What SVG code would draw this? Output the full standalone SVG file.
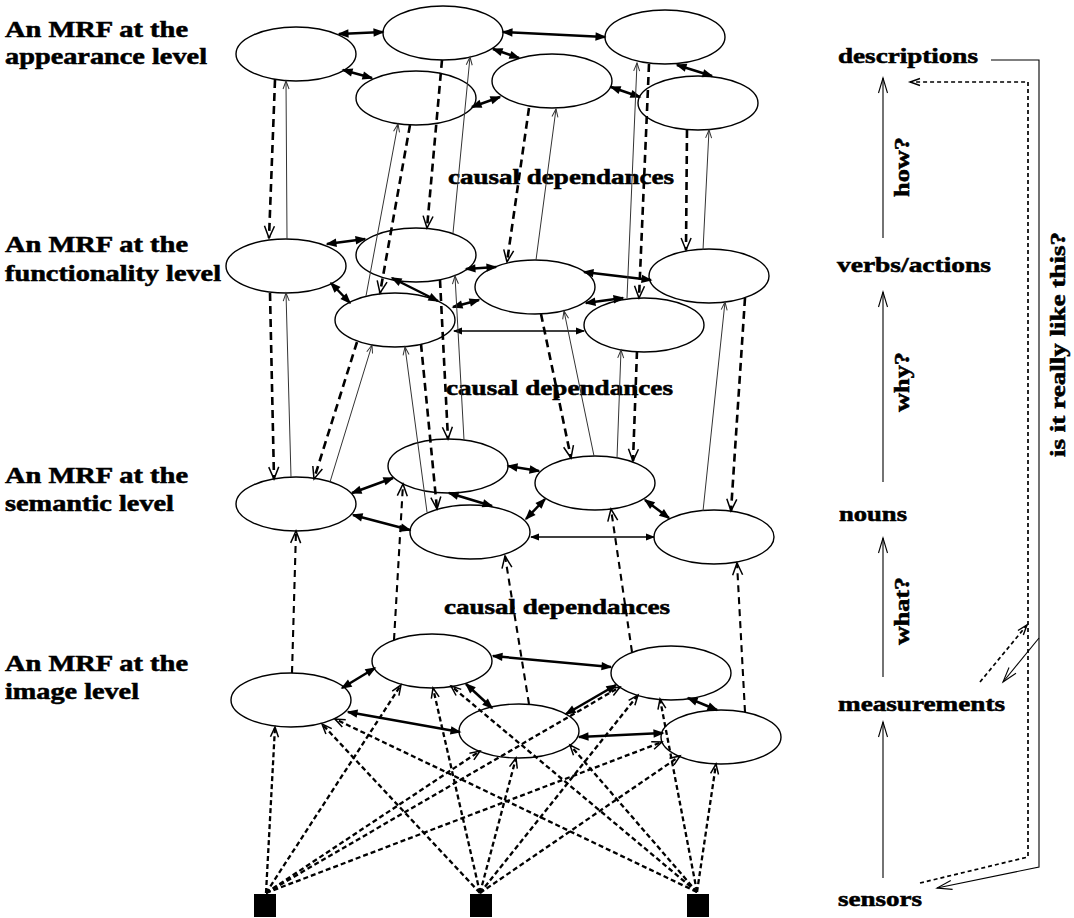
<svg xmlns="http://www.w3.org/2000/svg" width="1074" height="918" viewBox="0 0 1074 918">
<defs>
<style>
.lbl{font-family:"Liberation Serif","Times New Roman",serif;font-weight:bold;font-size:22px;fill:#000;stroke:#000;stroke-width:0.55}
.big{font-size:23px}
.node{fill:none;stroke:#000;stroke-width:1.4}
.sq{fill:#000}
.thick{stroke:#000;stroke-width:2.5;fill:none;marker-start:url(#fh);marker-end:url(#fh)}
.thin2{stroke:#000;stroke-width:1.4;fill:none;marker-start:url(#fhs);marker-end:url(#fhs)}
.down{stroke:#000;stroke-width:2.6;stroke-dasharray:8 5;fill:none;marker-end:url(#ov)}
.up{stroke:#333;stroke-width:1;fill:none;marker-end:url(#ovt)}
.up2{stroke:#000;stroke-width:2.1;stroke-dasharray:7 5;fill:none;marker-end:url(#ov)}
.sens{stroke:#000;stroke-width:2.3;stroke-dasharray:5 3;fill:none;marker-end:url(#ovs)}
.rs{stroke:#000;stroke-width:1.1;fill:none}
.rd{stroke:#000;stroke-width:1.7;stroke-dasharray:4 3;fill:none}
</style>
<marker id="fh" markerUnits="userSpaceOnUse" markerWidth="12" markerHeight="10" refX="-1.5" refY="0" orient="auto-start-reverse" overflow="visible"><path d="M-11,-4.2 L0,0 L-11,4.2 Z" fill="#000"/></marker>
<marker id="fhs" markerUnits="userSpaceOnUse" markerWidth="10" markerHeight="8" refX="-1" refY="0" orient="auto-start-reverse" overflow="visible"><path d="M-9,-3.5 L0,0 L-9,3.5 Z" fill="#000"/></marker>
<marker id="ov" markerUnits="userSpaceOnUse" markerWidth="12" markerHeight="10" refX="0" refY="0" orient="auto" overflow="visible"><path d="M-12,-5 L0,0 L-12,5" fill="none" stroke="#000" stroke-width="1.5"/></marker>
<marker id="ovt" markerUnits="userSpaceOnUse" markerWidth="8" markerHeight="6" refX="0" refY="0" orient="auto" overflow="visible"><path d="M-8,-3 L0,0 L-8,3" fill="none" stroke="#333" stroke-width="1"/></marker>
<marker id="ovs" markerUnits="userSpaceOnUse" markerWidth="10" markerHeight="8" refX="0" refY="0" orient="auto" overflow="visible"><path d="M-10,-4 L0,0 L-10,4" fill="none" stroke="#000" stroke-width="1.5"/></marker>
<marker id="ovl" markerUnits="userSpaceOnUse" markerWidth="15" markerHeight="9" refX="0" refY="0" orient="auto" overflow="visible"><path d="M-15,-4.5 L0,0 L-15,4.5" fill="none" stroke="#000" stroke-width="1.1"/></marker>
<marker id="ovd" markerUnits="userSpaceOnUse" markerWidth="10" markerHeight="8" refX="0" refY="0" orient="auto" overflow="visible"><path d="M-10,-3.5 L0,0 L-10,3.5" fill="none" stroke="#000" stroke-width="1.4"/></marker>
</defs>
<rect width="1074" height="918" fill="#fff"/>

<g id="labels">
<text class="lbl big" x="5" y="37" textLength="183" lengthAdjust="spacingAndGlyphs">An MRF at the</text>
<text class="lbl big" x="5" y="64" textLength="202" lengthAdjust="spacingAndGlyphs">appearance level</text>
<text class="lbl big" x="5" y="252" textLength="183" lengthAdjust="spacingAndGlyphs">An MRF at the</text>
<text class="lbl big" x="5" y="281" textLength="216" lengthAdjust="spacingAndGlyphs">functionality level</text>
<text class="lbl big" x="5" y="483" textLength="183" lengthAdjust="spacingAndGlyphs">An MRF at the</text>
<text class="lbl big" x="5" y="511" textLength="169" lengthAdjust="spacingAndGlyphs">semantic level</text>
<text class="lbl big" x="5" y="671" textLength="183" lengthAdjust="spacingAndGlyphs">An MRF at the</text>
<text class="lbl big" x="5" y="699" textLength="134" lengthAdjust="spacingAndGlyphs">image level</text>
<text class="lbl" x="448" y="184" textLength="226" lengthAdjust="spacingAndGlyphs">causal dependances</text>
<text class="lbl" x="446" y="395" textLength="227" lengthAdjust="spacingAndGlyphs">causal dependances</text>
<text class="lbl" x="444" y="614" textLength="226" lengthAdjust="spacingAndGlyphs">causal dependances</text>
<text class="lbl" x="838" y="63" textLength="140" lengthAdjust="spacingAndGlyphs">descriptions</text>
<text class="lbl" x="837" y="272" textLength="154" lengthAdjust="spacingAndGlyphs">verbs/actions</text>
<text class="lbl" x="839" y="521" textLength="68" lengthAdjust="spacingAndGlyphs">nouns</text>
<text class="lbl" x="838" y="711" textLength="167" lengthAdjust="spacingAndGlyphs">measurements</text>
<text class="lbl" x="838" y="906" textLength="84" lengthAdjust="spacingAndGlyphs">sensors</text>
<text class="lbl" transform="translate(909,197) rotate(-90)" textLength="60" lengthAdjust="spacingAndGlyphs">how?</text>
<text class="lbl" transform="translate(909,412) rotate(-90)" textLength="60" lengthAdjust="spacingAndGlyphs">why?</text>
<text class="lbl" transform="translate(909,645) rotate(-90)" textLength="68" lengthAdjust="spacingAndGlyphs">what?</text>
<text class="lbl" transform="translate(1065,457) rotate(-90)" textLength="225" lengthAdjust="spacingAndGlyphs">is it really like this?</text>
</g>

<g id="A1"><ellipse class="node" cx="296" cy="54" rx="60" ry="27"/></g>
<g id="A2"><ellipse class="node" cx="443" cy="33" rx="60" ry="27"/></g>
<g id="A3"><ellipse class="node" cx="665" cy="37" rx="60" ry="27"/></g>
<g id="A4"><ellipse class="node" cx="416" cy="98" rx="60" ry="27"/></g>
<g id="A5"><ellipse class="node" cx="552" cy="81" rx="60" ry="27"/></g>
<g id="A6"><ellipse class="node" cx="698" cy="103" rx="60" ry="27"/></g>

<g id="F1"><ellipse class="node" cx="286" cy="266" rx="60" ry="27"/></g>
<g id="F2"><ellipse class="node" cx="416" cy="255" rx="60" ry="27"/></g>
<g id="F3"><ellipse class="node" cx="535" cy="287" rx="60" ry="27"/></g>
<g id="F4"><ellipse class="node" cx="709" cy="276" rx="60" ry="27"/></g>
<g id="F5"><ellipse class="node" cx="395" cy="320" rx="60" ry="27"/></g>
<g id="F6"><ellipse class="node" cx="644" cy="325" rx="60" ry="27"/></g>

<g id="S1"><ellipse class="node" cx="296" cy="504" rx="60" ry="27"/></g>
<g id="S2"><ellipse class="node" cx="448" cy="466" rx="60" ry="27"/></g>
<g id="S3"><ellipse class="node" cx="595" cy="483" rx="60" ry="27"/></g>
<g id="S4"><ellipse class="node" cx="470" cy="532" rx="60" ry="27"/></g>
<g id="S5"><ellipse class="node" cx="714" cy="537" rx="60" ry="27"/></g>

<g id="I1"><ellipse class="node" cx="291" cy="700" rx="60" ry="27"/></g>
<g id="I2"><ellipse class="node" cx="432" cy="661" rx="60" ry="27"/></g>
<g id="I3"><ellipse class="node" cx="671" cy="673" rx="60" ry="27"/></g>
<g id="I4"><ellipse class="node" cx="519" cy="731" rx="60" ry="27"/></g>
<g id="I5"><ellipse class="node" cx="721" cy="737" rx="60" ry="27"/></g>

<g id="sensorL"><rect class="sq" x="254" y="894" width="22" height="23"/></g>
<g id="sensorM"><rect class="sq" x="470" y="894" width="22" height="23"/></g>
<g id="sensorR"><rect class="sq" x="687" y="894" width="22" height="23"/></g>

<g id="connectors">
<g id="intra">
<line class="thick" x1="339" y1="34" x2="383" y2="32"/>
<line class="thick" x1="503" y1="32" x2="605" y2="37"/>
<line class="thick" x1="343" y1="70" x2="372" y2="78"/>
<line class="thick" x1="493" y1="49" x2="519" y2="58"/>
<line class="thick" x1="472" y1="107" x2="500" y2="97"/>
<line class="thick" x1="677" y1="65" x2="712" y2="76"/>
<line class="thick" x1="611" y1="87" x2="640" y2="97"/>

<line class="thick" x1="327" y1="244" x2="365" y2="239"/>
<line class="thick" x1="331" y1="283" x2="350" y2="303"/>
<line class="thick" x1="466" y1="269" x2="496" y2="267"/>
<line class="thick" x1="392" y1="278" x2="438" y2="301"/>
<line class="thick" x1="584" y1="272" x2="651" y2="280"/>
<line class="thick" x1="586" y1="303" x2="623" y2="298"/>
<line class="thick" x1="453" y1="307" x2="479" y2="300"/>
<line class="thin2" x1="454" y1="331" x2="584" y2="331"/>

<line class="thick" x1="352" y1="493" x2="393" y2="478"/>
<line class="thick" x1="353" y1="515" x2="410" y2="530"/>
<line class="thick" x1="449" y1="493" x2="492" y2="506"/>
<line class="thick" x1="508" y1="466" x2="539" y2="471"/>
<line class="thick" x1="545" y1="499" x2="526" y2="519"/>
<line class="thick" x1="645" y1="500" x2="669" y2="518"/>
<line class="thin2" x1="531" y1="537" x2="654" y2="537"/>

<line class="thick" x1="342" y1="688" x2="375" y2="668"/>
<line class="thick" x1="348" y1="712" x2="460" y2="732"/>
<line class="thick" x1="493" y1="656" x2="611" y2="667"/>
<line class="thick" x1="466" y1="684" x2="492" y2="708"/>
<line class="thick" x1="616" y1="685" x2="566" y2="714"/>
<line class="thick" x1="688" y1="698" x2="717" y2="710"/>
<line class="thick" x1="579" y1="737" x2="663" y2="733"/>
</g>

<g id="topdown">
<line class="down" x1="275" y1="80" x2="269" y2="238"/>
<line class="down" x1="410" y1="125" x2="380" y2="293"/>
<line class="down" x1="442" y1="60" x2="427" y2="228"/>
<line class="down" x1="529" y1="108" x2="507" y2="262"/>
<line class="down" x1="649" y1="64" x2="639" y2="298"/>
<line class="down" x1="687" y1="130" x2="686" y2="250"/>
<line class="down" x1="270" y1="293" x2="274" y2="479"/>
<line class="down" x1="357" y1="342" x2="314" y2="479"/>
<line class="down" x1="421" y1="344" x2="437" y2="509"/>
<line class="down" x1="440" y1="280" x2="448" y2="439"/>
<line class="down" x1="541" y1="314" x2="571" y2="458"/>
<line class="down" x1="637" y1="351" x2="633" y2="461"/>
<line class="down" x1="745" y1="298" x2="731" y2="511"/>
</g>

<g id="bottomup">
<line class="up" x1="287" y1="239" x2="286" y2="81"/>
<line class="up" x1="366" y1="296" x2="398" y2="124"/>
<line class="up" x1="453" y1="233" x2="470" y2="57"/>
<line class="up" x1="536" y1="260" x2="556" y2="109"/>
<line class="up" x1="627" y1="298" x2="637" y2="63"/>
<line class="up" x1="703" y1="250" x2="709" y2="130"/>
<line class="up" x1="291" y1="477" x2="286" y2="293"/>
<line class="up" x1="330" y1="482" x2="372" y2="345"/>
<line class="up" x1="427" y1="512" x2="405" y2="347"/>
<line class="up" x1="464" y1="440" x2="455" y2="276"/>
<line class="up" x1="594" y1="456" x2="564" y2="311"/>
<line class="up" x1="617" y1="458" x2="621" y2="350"/>
<line class="up" x1="703" y1="511" x2="725" y2="302"/>
<line class="up2" x1="292" y1="673" x2="296" y2="531"/>
<line class="up2" x1="394" y1="640" x2="403" y2="484"/>
<line class="up2" x1="529" y1="704" x2="505" y2="556"/>
<line class="up2" x1="632" y1="652" x2="611" y2="509"/>
<line class="up2" x1="745" y1="712" x2="737" y2="563"/>
</g>

<g id="sensorlinks">
<line class="sens" x1="266" y1="893" x2="275" y2="727"/>
<line class="sens" x1="266" y1="893" x2="401" y2="685"/>
<line class="sens" x1="266" y1="893" x2="480" y2="751"/>
<line class="sens" x1="266" y1="893" x2="620" y2="687"/>
<line class="sens" x1="266" y1="893" x2="662" y2="742"/>
<line class="sens" x1="480" y1="893" x2="322" y2="724"/>
<line class="sens" x1="480" y1="893" x2="433" y2="688"/>
<line class="sens" x1="480" y1="893" x2="516" y2="758"/>
<line class="sens" x1="480" y1="893" x2="638" y2="695"/>
<line class="sens" x1="480" y1="893" x2="680" y2="756"/>
<line class="sens" x1="697" y1="892" x2="335" y2="719"/>
<line class="sens" x1="697" y1="892" x2="451" y2="686"/>
<line class="sens" x1="697" y1="892" x2="570" y2="745"/>
<line class="sens" x1="697" y1="892" x2="660" y2="699"/>
<line class="sens" x1="697" y1="892" x2="716" y2="764"/>
</g>

<g id="rightside">
<line class="rs" x1="883" y1="238" x2="883" y2="78" marker-end="url(#ovl)"/>
<line class="rs" x1="883" y1="482" x2="883" y2="292" marker-end="url(#ovl)"/>
<line class="rs" x1="883" y1="677" x2="883" y2="538" marker-end="url(#ovl)"/>
<line class="rs" x1="883" y1="878" x2="883" y2="722" marker-end="url(#ovl)"/>
<polyline class="rs" points="991,60 1039,60 1039,867 937,888" marker-end="url(#ovl)"/>
<line class="rs" x1="1039" y1="638" x2="1003" y2="682" marker-end="url(#ovl)"/>
<polyline class="rd" points="920,883 1028,857 1028,82 910,82" marker-end="url(#ovd)"/>
<line class="rd" x1="980" y1="682" x2="1027" y2="625" marker-end="url(#ovd)"/>
</g>
</g>
</svg>
